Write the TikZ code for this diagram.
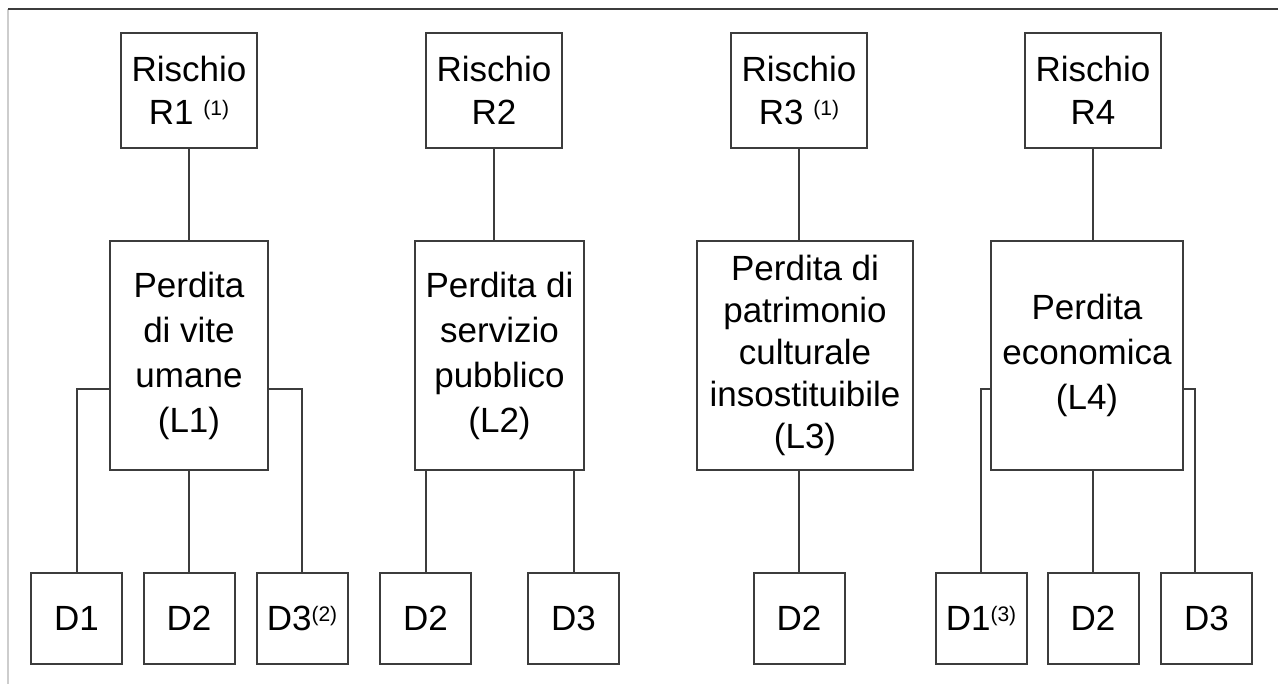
\documentclass[tikz,border=0pt]{standalone}
\usepackage{fontspec}
\setmainfont{Liberation Sans}
\usepackage{tikz}
\definecolor{linegray}{RGB}{60,60,60}
\definecolor{framegray}{RGB}{205,205,205}
\newcommand{\nota}[1]{\raisebox{4.5pt}{\fontsize{10.5}{12}\selectfont(#1)}}
\tikzset{
  box/.style={draw=linegray, line width=1pt, inner sep=0pt, align=center, font=\fontsize{17.5}{22.5}\selectfont},
  rbox/.style={box, minimum width=68pt, minimum height=57.5pt, font=\fontsize{17.5}{21.5}\selectfont},
  lbox/.style={box, minimum height=114.5pt},
  dbox/.style={box, minimum width=45.5pt, minimum height=45.5pt},
  link/.style={draw=linegray, line width=1pt}
}

\begin{document}
\begin{tikzpicture}[x=0.5pt,y=-0.5pt]

\useasboundingbox (0,0) rectangle (1278,684);

\draw[draw=framegray, line width=1pt] (8,9) -- (8,684);
\draw[draw=linegray, line width=1.3pt] (8,9) -- (1278,9);

\node (r1) at (189,90.5) [rbox] {Rischio\\R1 \nota{1}};
\node (r2) at (494,90.5) [rbox] {Rischio\\R2};
\node (r3) at (799,90.5) [rbox] {Rischio\\R3 \nota{1}};
\node (r4) at (1093,90.5) [rbox] {Rischio\\R4};

\node (l1) at (189,355.5) [lbox, minimum width=79pt] {Perdita\\di vite\\umane\\(L1)};
\node (l2) at (499.5,355.5) [lbox, minimum width=84.5pt] {Perdita di\\servizio\\pubblico\\(L2)};
\node (l3) at (805,355.5) [lbox, minimum width=108pt, font=\fontsize{17.5}{21}\selectfont] {Perdita di\\patrimonio\\culturale\\insostituibile\\(L3)};
\node (l4) at (1087,355.5) [lbox, minimum width=96pt] {Perdita\\economica\\(L4)};

\node (d1a) at (76.5,618.5) [dbox] {D1};
\node (d2a) at (189,618.5) [dbox] {D2};
\node (d3a) at (302,618.5) [dbox] {D3\nota{2}};
\node (d2b) at (425.5,618.5) [dbox] {D2};
\node (d3b) at (573.5,618.5) [dbox] {D3};
\node (d2c) at (799,618.5) [dbox] {D2};
\node (d1d) at (981,618.5) [dbox] {D1\nota{3}};
\node (d2d) at (1093,618.5) [dbox] {D2};
\node (d3d) at (1206.5,618.5) [dbox] {D3};

\draw[link] (r1) -- (l1);
\draw[link] (r2.south) -- (r2.south |- l2.north);
\draw[link] (r3.south) -- (r3.south |- l3.north);
\draw[link] (r4.south) -- (r4.south |- l4.north);

\draw[link] (l1) -- (d2a);
\draw[link] ([yshift=-16.75pt]l1.west) -| (d1a.north);
\draw[link] ([yshift=-16.75pt]l1.east) -| (d3a.north);

\draw[link] (d2b.north) -- (d2b.north |- l2.south);
\draw[link] (d3b.north) -- (d3b.north |- l2.south);

\draw[link] (d2c.north |- l3.south) -- (d2c.north);

\draw[link] ([yshift=-16.75pt]l4.west) -| (d1d.north);
\draw[link] (d2d.north) -- (d2d.north |- l4.south);
\draw[link] ([yshift=-16.75pt]l4.east) -| ([xshift=-5.75pt]d3d.north);

\end{tikzpicture}
\end{document}
